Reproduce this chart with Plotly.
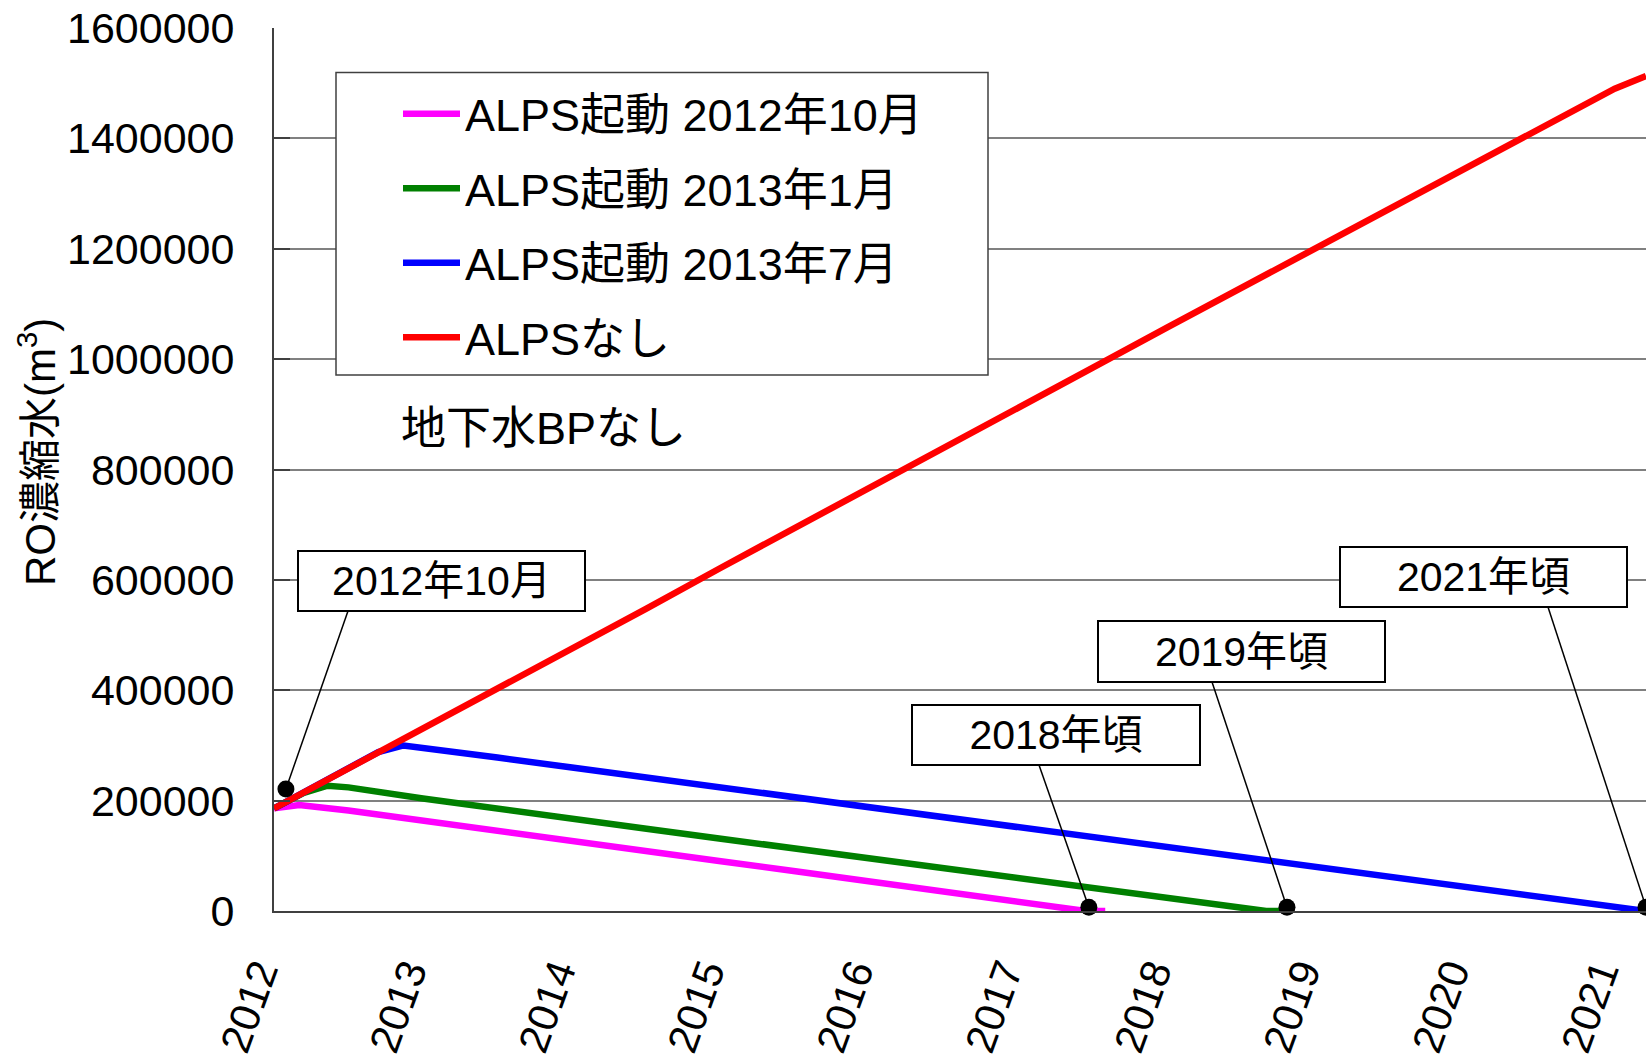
import plotly.graph_objects as go

FONT = "Liberation Sans, Arial, Noto Sans CJK JP, sans-serif"

# ---------------- data ----------------
series_names = ["ALPS起動 2012年10月", "ALPS起動 2013年1月", "ALPS起動 2013年7月", "ALPSなし"]
series_colors = ["#FF00FF", "#008000", "#0000FF", "#FF0000"]

x_mag = [2012.0, 2012.17, 2012.5, 2013.0, 2013.5, 2014.0, 2014.5, 2015.0, 2015.5,
         2016.0, 2016.5, 2017.0, 2017.35, 2017.45, 2017.58]
y_mag = [186000, 192000, 182000, 163000, 145000, 127000, 108000, 90000, 72000,
         53000, 35000, 16000, 2000, 0, 0]

x_grn = [2012.0, 2012.2, 2012.36, 2012.5, 2013.0, 2013.5, 2014.0, 2014.5, 2015.0,
         2015.5, 2016.0, 2016.5, 2017.0, 2017.5, 2018.0, 2018.4, 2018.66, 2018.8]
y_grn = [186000, 214000, 227000, 224000, 204000, 185000, 167000, 149000, 131000,
         113000, 95000, 77000, 59000, 41000, 25000, 11000, 0, 0]

x_blu = [2012.0, 2012.5, 2012.7, 2012.87, 2013.0, 2013.5, 2014.0, 2014.5, 2015.0,
         2015.5, 2016.0, 2016.5, 2017.0, 2017.5, 2018.0, 2018.5, 2019.0, 2019.5,
         2020.0, 2020.5, 2021.0, 2021.21]
y_blu = [186000, 258000, 288000, 300000, 296000, 278000, 260000, 242000, 224000,
         206000, 188000, 170000, 152000, 134000, 116000, 98000, 80000, 62000,
         44000, 26000, 8000, 0]

x_red = [2012.0, 2012.5, 2013.0, 2013.5, 2014.0, 2014.5, 2015.0, 2015.5, 2016.0,
         2016.5, 2017.0, 2017.5, 2018.0, 2018.5, 2019.0, 2019.5, 2020.0, 2020.5,
         2021.0, 2021.21]
y_red = [186000, 258000, 333000, 404000, 476000, 548000, 622000, 694000, 766000,
         840000, 912000, 985000, 1058000, 1130000, 1203000, 1275000, 1347000, 1420000,
         1490000, 1513000]

# marked end points with their callouts
end_x = [2012.08, 2017.47, 2018.80, 2021.21]
end_y = [221000, 7000, 7000, 7000]
end_labels = ["2012年10月", "2018年頃", "2019年頃", "2021年頃"]

x_ticks = [2012, 2013, 2014, 2015, 2016, 2017, 2018, 2019, 2020, 2021]
y_ticks = [0, 200000, 400000, 600000, 800000, 1000000, 1200000, 1400000, 1600000]

y_title = "RO濃縮水(m<sup>3</sup>)"
note_text = "地下水BPなし"

# ---------------- layout geometry ----------------
W, H = 1646, 1059
L, R, T, B = 274, 0, 28, 148
PW, PH = W - L - R, H - T - B
X_MIN, X_MAX = 2012.0, 2021.21
Y_MAX = 1600000


def px(xp):
    return (xp - L) / PW


def py(yp):
    return (H - B - yp) / PH


def dx(xp):
    return X_MIN + (xp - L) / PW * (X_MAX - X_MIN)


def dy(yp):
    return (H - B - yp) / PH * Y_MAX


fig = go.Figure()

all_x = [x_mag, x_grn, x_blu, x_red]
all_y = [y_mag, y_grn, y_blu, y_red]
for i, (name, col, xs, ys) in enumerate(zip(series_names, series_colors, all_x, all_y)):
    fig.add_trace(go.Scatter(x=xs, y=ys, mode="lines", name=name,
                             line=dict(color=col, width=6.5),
                             legendgroup="g%d" % i))

fig.add_trace(go.Scatter(x=end_x, y=end_y, mode="markers", showlegend=False,
                         marker=dict(color="black", size=17), cliponaxis=False))

# callout boxes (pixel boxes) and leader lines
boxes = [  # left, top, right, bottom ; leader tail (x, y)
    (298, 551, 585, 611, 348, 611),
    (912, 705, 1200, 765, 1039, 765),
    (1098, 621, 1385, 682, 1212, 682),
    (1340, 547, 1627, 607, 1548, 607),
]
shapes = [dict(type="rect", xref="paper", yref="paper", x0=px(336), x1=px(988),
               y0=py(375), y1=py(72.5), line=dict(color="#404040", width=1.5),
               fillcolor="white", layer="above")]
annotations = []
for (l, t, r, b, tx, ty), ex, ey in zip(boxes, end_x, end_y):
    shapes.append(dict(type="line", xref="x", yref="y", x0=dx(tx), y0=dy(ty), x1=ex, y1=ey,
                       line=dict(color="black", width=1.5), layer="above"))
for (l, t, r, b, tx, ty), lab in zip(boxes, end_labels):
    annotations.append(dict(x=px((l + r) / 2), y=py((t + b) / 2), xref="paper", yref="paper",
                            text=lab, showarrow=False, xanchor="center", yanchor="middle",
                            width=r - l - 2, height=b - t - 2, borderpad=0,
                            bordercolor="black", borderwidth=2, bgcolor="white",
                            font=dict(family=FONT, size=41, color="black")))

annotations.append(dict(x=px(399), y=py(428), xref="paper", yref="paper", text=note_text,
                        showarrow=False, xanchor="left", yanchor="middle",
                        font=dict(family=FONT, size=45, color="black")))
annotations.append(dict(x=px(37), y=py(452), xref="paper", yref="paper", text=y_title,
                        showarrow=False, xanchor="center", yanchor="middle", textangle=-90,
                        font=dict(family=FONT, size=42, color="black")))

fig.update_layout(
    width=W, height=H,
    margin=dict(l=L, r=R, t=T, b=B, pad=0),
    paper_bgcolor="white", plot_bgcolor="white",
    font=dict(family=FONT, color="black"),
    showlegend=True,
    legend=dict(x=px(398), y=py(78), xanchor="left", yanchor="top",
                bgcolor="rgba(0,0,0,0)", borderwidth=0, itemwidth=57,
                tracegroupgap=13, traceorder="grouped",
                font=dict(family=FONT, size=45, color="black")),
    annotations=annotations,
    shapes=shapes,
    xaxis=dict(range=[X_MIN, X_MAX], tickmode="array", tickvals=x_ticks,
               ticktext=[str(v) for v in x_ticks], tickangle=-70, automargin=False,
               showgrid=False, zeroline=False, showline=True, linecolor="#404040",
               linewidth=2, ticks="", ticklabelstandoff=18, ticklabelshift=-15,
               tickfont=dict(family=FONT, size=42, color="black")),
    yaxis=dict(range=[0, Y_MAX], tickmode="array", tickvals=y_ticks,
               ticktext=[str(v) for v in y_ticks], automargin=False,
               showgrid=True, gridcolor="#808080", gridwidth=1.5,
               zeroline=False, showline=True, linecolor="#404040", linewidth=2,
               ticks="inside", ticklen=16, tickcolor="#404040", tickwidth=1.5,
               ticklabelstandoff=29,
               tickfont=dict(family=FONT, size=43, color="black")),
)

fig.write_html("out.html", config={"displayModeBar": False},
               post_script="document.body.style.margin='0';document.body.style.overflow='hidden';")
